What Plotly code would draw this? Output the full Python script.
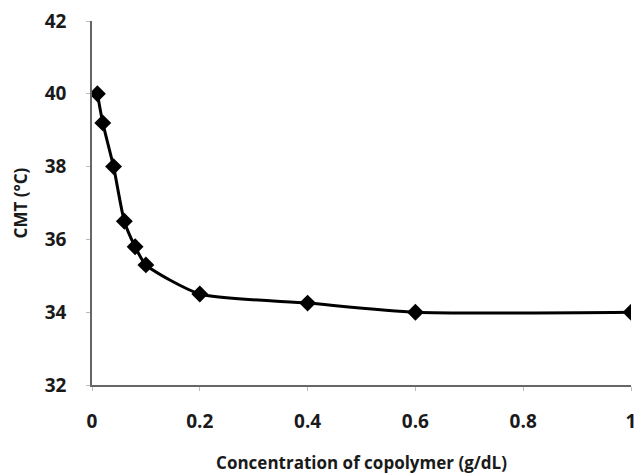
import plotly.graph_objects as go

conc = [0.01, 0.02, 0.04, 0.06, 0.08, 0.1, 0.2, 0.4, 0.6, 1.0]
cmt = [40.0, 39.2, 38.0, 36.5, 35.8, 35.3, 34.5, 34.25, 34.0, 34.0]
x_ticks = [0, 0.2, 0.4, 0.6, 0.8, 1]
x_labels = ["0", "0.2", "0.4", "0.6", "0.8", "1"]
y_ticks = [32, 34, 36, 38, 40, 42]

FONT = "Open Sans"
TXT = "#1a1a1a"

fig = go.Figure()
fig.add_trace(go.Scatter(
    x=conc, y=cmt, mode="lines+markers",
    line=dict(color="black", width=3, shape="spline", smoothing=0.6),
    marker=dict(symbol="diamond", size=13, color="black"),
    showlegend=False,
))

fig.update_layout(
    width=638, height=474,
    margin=dict(l=92, r=7, t=21, b=89, autoexpand=False),
    paper_bgcolor="white", plot_bgcolor="white",
    font=dict(family=FONT, color=TXT, size=19),
    xaxis=dict(
        range=[0, 1], tickvals=x_ticks, ticktext=x_labels,
        showline=True, linecolor="#666666", linewidth=1.5,
        ticks="outside", ticklen=4, tickcolor="#bbbbbb",
        ticklabelstandoff=14,
        showgrid=False, zeroline=False, automargin=False,
        tickfont=dict(family=FONT, size=19, color=TXT, weight=700),
        title=dict(text="Concentration of copolymer (g/dL)",
                   font=dict(family=FONT, size=17, color=TXT, weight=700),
                   standoff=28),
    ),
    yaxis=dict(
        range=[32, 42], tickvals=y_ticks,
        showline=True, linecolor="#666666", linewidth=1.5,
        ticks="outside", ticklen=4, tickcolor="#bbbbbb",
        ticklabelstandoff=16,
        showgrid=False, zeroline=False, automargin=False,
        tickfont=dict(family=FONT, size=19, color=TXT, weight=700),
        title=dict(text="CMT (°C)",
                   font=dict(family=FONT, size=17, color=TXT, weight=700),
                   standoff=13),
    ),
)

fig.write_html("out.html")
